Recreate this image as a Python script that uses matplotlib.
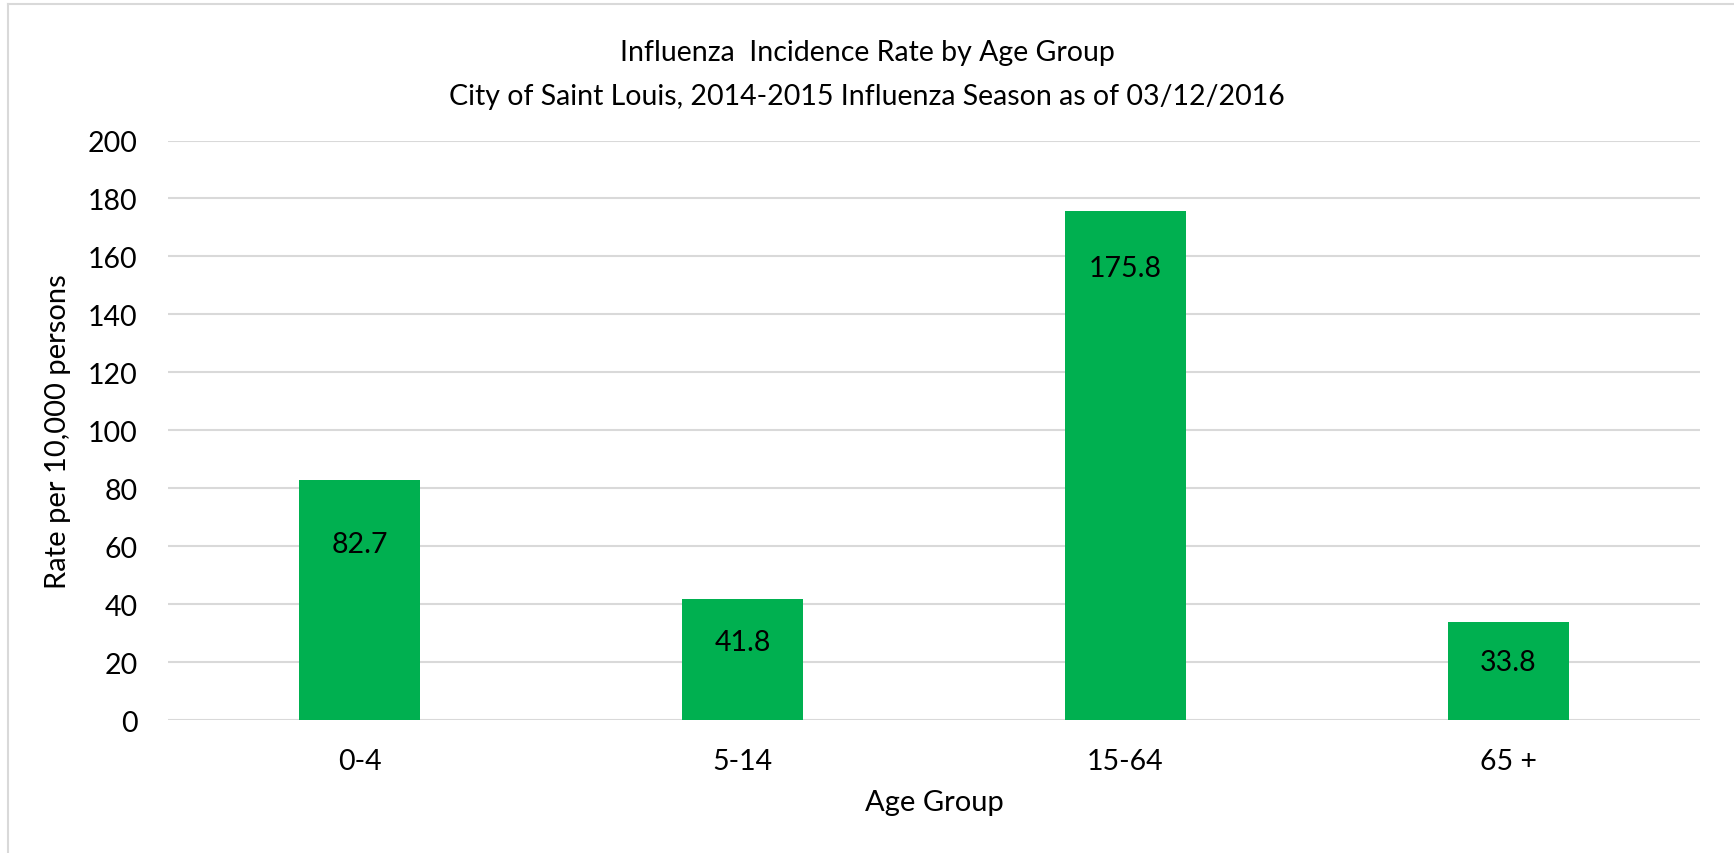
import matplotlib.pyplot as plt
from matplotlib.lines import Line2D

age_groups = ['0-4', '5-14', '15-64', '65 +']
rates = [82.7, 41.8, 175.8, 33.8]
y_ticks = [0, 20, 40, 60, 80, 100, 120, 140, 160, 180, 200]

plt.rcParams['font.family'] = ['Lato', 'DejaVu Sans']
fs = 20.5
# labels were placed by hand in the original, so each sits a bit differently below its bar top (points)
label_drop = [46, 31, 41, 29]

fig = plt.figure(figsize=(17.34, 8.54), dpi=100)
ax = fig.add_axes([168 / 1734, 1 - 721 / 854, (1700 - 168) / 1734, (721 - 141.5) / 854])

x = range(len(age_groups))
bars = ax.bar(x, rates, width=0.315, color='#00B050', zorder=3)
for b, v, d in zip(bars, rates, label_drop):
    ax.annotate(f'{v}', (b.get_x() + b.get_width() / 2, v), xytext=(0, -d),
                textcoords='offset points', ha='center', va='center', fontsize=fs, color='black', zorder=4)

ax.set_xlim(-0.5, len(age_groups) - 0.5)
ax.set_ylim(0, 200)
ax.set_yticks(y_ticks)
ax.set_xticks(list(x))
ax.set_xticklabels(age_groups)
ax.tick_params(axis='both', length=0, labelsize=fs, colors='black')
ax.tick_params(axis='y', pad=22)
ax.tick_params(axis='x', pad=20)
ax.yaxis.grid(True, color='#D9D9D9', linewidth=1.5, zorder=0)
for s in ax.spines.values():
    s.set_visible(False)

ax.set_xlabel('Age Group', fontsize=fs + 0.5, labelpad=11)
ax.set_ylabel('Rate per 10,000 persons', fontsize=fs + 0.5, labelpad=12)

fig.text(0.5, 1 - 53 / 854, 'Influenza  Incidence Rate by Age Group', ha='center', va='center', fontsize=fs)
fig.text(0.5, 1 - 97 / 854, 'City of Saint Louis, 2014-2015 Influenza Season as of 03/12/2016',
         ha='center', va='center', fontsize=fs)

# chart frame (only left and top edges visible)
fig.add_artist(Line2D([8 / 1734, 8 / 1734], [0, 1 - 5 / 854], color='#D9D9D9', linewidth=1.5))
fig.add_artist(Line2D([8 / 1734, 1], [1 - 5 / 854, 1 - 5 / 854], color='#D9D9D9', linewidth=1.5))

fig.savefig('out.png', dpi=100)
